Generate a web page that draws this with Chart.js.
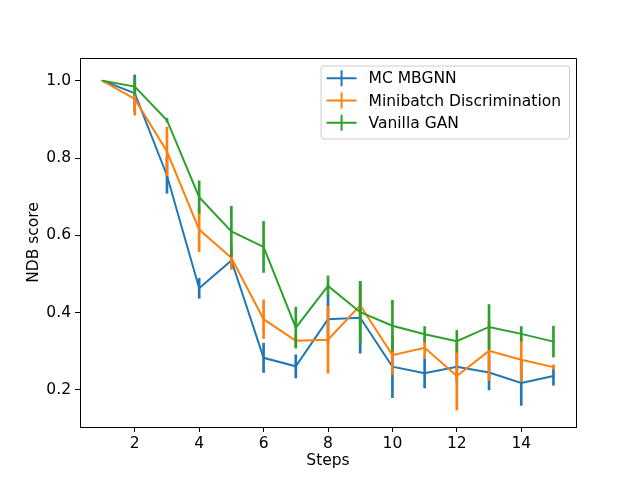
<!DOCTYPE html>
<html>
<head>
<meta charset="utf-8">
<script src="https://cdn.jsdelivr.net/npm/chart.js@4.4.0/dist/chart.umd.min.js"></script>
<style>
  html, body { margin: 0; padding: 0; background: #fff; }
  canvas { display: block; }
</style>
</head>
<body>
<canvas id="chart" width="640" height="480"></canvas>
<script>
// ---- Data ----------------------------------------------------------------
const steps = [1, 2, 3, 4, 5, 6, 7, 8, 9, 10, 11, 12, 13, 14, 15];

const mbgnnMean = [1.000, 0.968, 0.755, 0.463, 0.535, 0.283, 0.261, 0.383, 0.387, 0.260, 0.243, 0.260, 0.245, 0.218, 0.236];
const mbgnnErr  = [0.000, 0.047, 0.046, 0.026, 0.020, 0.038, 0.030, 0.062, 0.092, 0.080, 0.038, 0.040, 0.045, 0.058, 0.024];

const minibatchMean = [1.000, 0.953, 0.817, 0.615, 0.542, 0.383, 0.327, 0.330, 0.419, 0.290, 0.309, 0.236, 0.301, 0.278, 0.259];
const minibatchErr  = [0.000, 0.042, 0.063, 0.057, 0.030, 0.050, 0.015, 0.087, 0.050, 0.050, 0.026, 0.088, 0.077, 0.056, 0.006];

const vanillaMean = [1.000, 0.985, 0.898, 0.699, 0.610, 0.570, 0.361, 0.469, 0.401, 0.366, 0.344, 0.326, 0.363, 0.345, 0.325];
const vanillaErr  = [0.000, 0.022, 0.005, 0.042, 0.065, 0.066, 0.053, 0.026, 0.080, 0.066, 0.020, 0.028, 0.058, 0.019, 0.040];

const seriesLabels = ["MC MBGNN", "Minibatch Discrimination", "Vanilla GAN"];
const seriesColors = ["#1f77b4", "#ff7f0e", "#2ca02c"];

const xTicks = [2, 4, 6, 8, 10, 12, 14];
const yTicks = [0.2, 0.4, 0.6, 0.8, 1.0];

// ---- Helpers ---------------------------------------------------------------
const FONT = "DejaVu Sans";
const FONT_SIZE = 15.5;
Chart.defaults.font.family = FONT;
Chart.defaults.font.size = FONT_SIZE;
Chart.defaults.color = "#000";

function lineSet(i, mean) {
    return {
        type: "line",
        label: seriesLabels[i],
        data: steps.map((s, k) => ({ x: s, y: mean[k] })),
        borderColor: seriesColors[i],
        borderWidth: 2,
        pointRadius: 0,
        tension: 0,
        fill: false,
        order: 2 - i,       // later series on top, like matplotlib
    };
}

function errSet(i, mean, err) {
    return {
        type: "bar",
        label: seriesLabels[i] + " err",
        data: steps.map((s, k) => ({ x: s, y: [mean[k] - err[k], mean[k] + err[k]] })),
        backgroundColor: seriesColors[i],
        borderWidth: 0,
        barThickness: 2,
        grouped: false,
        order: 2 - i,
    };
}

// ---- Axes box (top/right spines) + in-plot legend -------------------------
const framePlugin = {
    id: "frame",
    afterDraw(chart) {
        const { ctx, chartArea: a } = chart;
        ctx.save();
        ctx.strokeStyle = "#000";
        ctx.lineWidth = 1;
        ctx.beginPath();
        ctx.moveTo(a.left + 0.5, a.top + 0.5);
        ctx.lineTo(a.right + 0.5, a.top + 0.5);
        ctx.lineTo(a.right + 0.5, a.bottom + 0.5);
        ctx.stroke();

        // legend box
        ctx.font = FONT_SIZE + "px '" + FONT + "'";
        const textW = Math.max(...seriesLabels.map((t) => ctx.measureText(t).width));
        const pad = 6, handleLen = 30, handleGap = 12, rowH = 22.2;
        const boxW = pad + handleLen + handleGap + textW + 8;
        const boxH = 73;
        const bx = a.right - 7 - boxW;
        const by = a.top + 7.5;
        ctx.beginPath();
        ctx.roundRect(bx + 0.5, by + 0.5, boxW, boxH, 3);
        ctx.fillStyle = "rgba(255,255,255,0.8)";
        ctx.fill();
        ctx.strokeStyle = "#cccccc";
        ctx.stroke();

        seriesLabels.forEach((label, i) => {
            const cy = by + 12.8 + i * rowH;
            const hx = bx + pad;
            ctx.strokeStyle = seriesColors[i];
            ctx.lineWidth = 2;
            ctx.beginPath();
            ctx.moveTo(hx, cy);
            ctx.lineTo(hx + handleLen, cy);
            ctx.moveTo(hx + handleLen / 2, cy - 8);
            ctx.lineTo(hx + handleLen / 2, cy + 8);
            ctx.stroke();
            ctx.fillStyle = "#000";
            ctx.textBaseline = "middle";
            ctx.textAlign = "left";
            ctx.fillText(label, hx + handleLen + handleGap, cy + 1);
        });
        ctx.restore();
    },
};

// ---- Chart ---------------------------------------------------------------
const axisGrid = {
    display: true,
    drawOnChartArea: false,
    drawTicks: true,
    offset: false,
    tickLength: 5,
    color: "#000",
    lineWidth: 1,
};

new Chart(document.getElementById("chart"), {
    type: "line",
    data: {
        datasets: [
            lineSet(0, mbgnnMean),     errSet(0, mbgnnMean, mbgnnErr),
            lineSet(1, minibatchMean), errSet(1, minibatchMean, minibatchErr),
            lineSet(2, vanillaMean),   errSet(2, vanillaMean, vanillaErr),
        ],
    },
    options: {
        responsive: false,
        devicePixelRatio: 1,
        animation: false,
        layout: { padding: { left: 0, right: 64, top: 58, bottom: 0 } },
        plugins: { legend: { display: false }, tooltip: { enabled: false } },
        scales: {
            x: {
                type: "linear",
                min: 0.3,
                max: 15.7,
                offset: false,
                grid: axisGrid,
                border: { display: true, color: "#000", width: 1 },
                afterBuildTicks: (s) => { s.ticks = xTicks.map((v) => ({ value: v })); },
                afterFit: (s) => { s.height = 53; },
                ticks: { padding: 3, maxRotation: 0, autoSkip: false, color: "#000" },
                title: { display: true, text: "Steps", color: "#000",
                         padding: { top: 0, bottom: 9.8 } },
            },
            y: {
                type: "linear",
                min: 0.104,
                max: 1.059,
                grid: axisGrid,
                border: { display: true, color: "#000", width: 1 },
                afterBuildTicks: (s) => { s.ticks = yTicks.map((v) => ({ value: v })); },
                afterFit: (s) => { s.width = 80; },
                ticks: { padding: 4, color: "#000", callback: (v) => v.toFixed(1) },
                title: { display: true, text: "NDB score", color: "#000",
                         padding: { top: 24.8, bottom: 0 } },
            },
        },
    },
    plugins: [framePlugin],
});
</script>
</body>
</html>
